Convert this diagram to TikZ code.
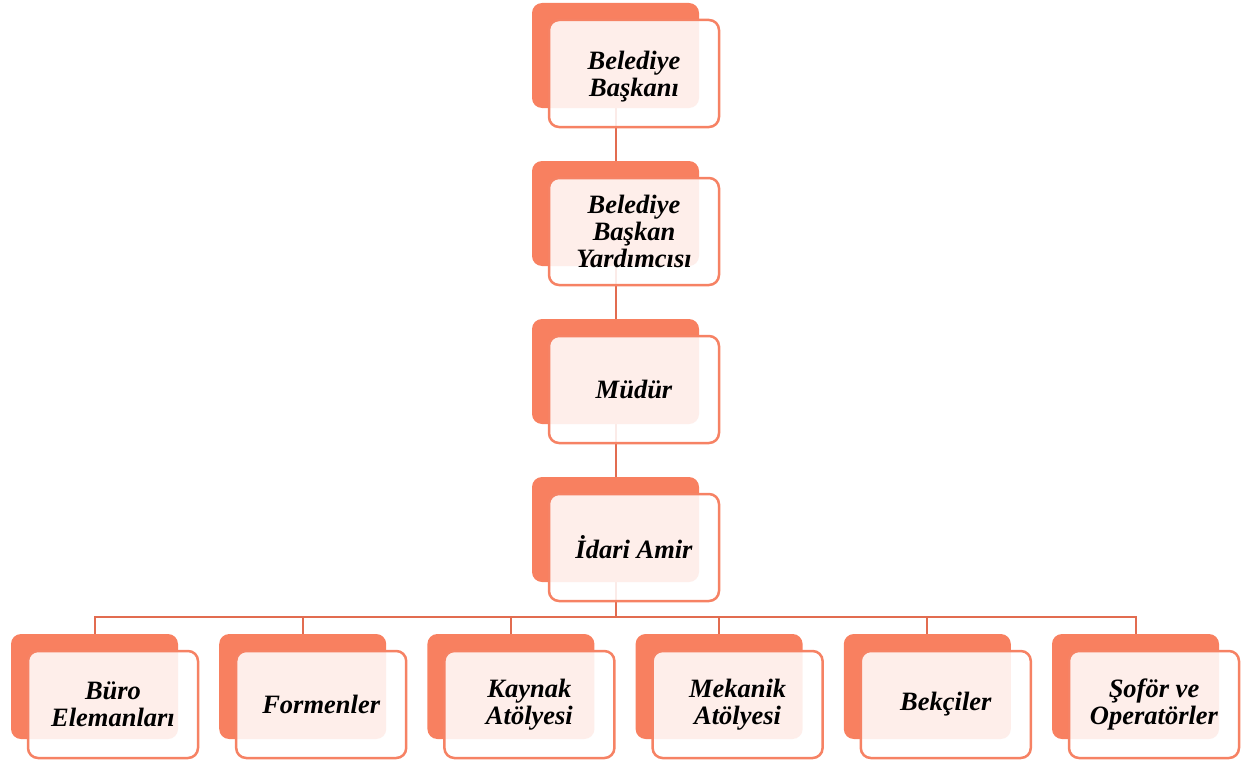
\documentclass[tikz,border=0pt]{standalone}
\usepackage{fontspec}
\setmainfont{Liberation Serif}
\usetikzlibrary{positioning,calc,backgrounds}
\definecolor{mercan}{RGB}{248, 128, 96}
\definecolor{cizgi}{RGB}{226, 108, 80}
\definecolor{kenar}{RGB}{246, 130, 100}
\tikzset{
    arka/.style={rectangle, rounded corners=10pt, fill=mercan, draw=none, minimum width=167, minimum height=105},
    on/.style={rectangle, rounded corners=10pt, draw=kenar, line width=2.5pt, fill=white, fill opacity=0.87, text opacity=1,
               minimum width=170, minimum height=107, align=center, inner sep=1pt,
               font=\fontsize{26.5}{27}\selectfont\bfseries\itshape},
    bag/.style={draw=cizgi, line width=2pt}
}

\begin{document}
\begin{tikzpicture}[x=1pt, y=-1pt]
    \useasboundingbox (0,0) rectangle (1241,760);
    \def\dx{18.5}
    \def\dy{18}

    % orta sutun
    \node[arka] (baskan-a) at (615.5, 55.5) {};
    \node[on, text depth=-1pt] (baskan) at (615.5+\dx, 55.5+\dy) {Belediye\\Başkanı};
    \foreach \ad/\y/\metin in {yardimci/213.5/{Belediye\\Başkan\\Yardımcısı}, mudur/371.5/{Müdür}, amir/529.5/{İdari Amir}}{
        \node[arka] (\ad-a) at (615.5, \y) {};
        \node[on] (\ad) at (615.5+\dx, \y+\dy) {\metin};
    }

    % alt sira
    \foreach \ad/\i/\metin in {buro/0/{Büro\\Elemanları}, formen/1/{Formenler}, kaynak/2/{Kaynak\\Atölyesi}, mekanik/3/{Mekanik\\Atölyesi}, bekci/4/{Bekçiler}, sofor/5/{Şoför ve\\Operatörler}}{
        \node[arka] (\ad-a) at (94.5+208.2*\i, 686.5) {};
        \node[on] (\ad) at (94.5+208.2*\i+\dx, 686.5+\dy) {\metin};
    }

    \begin{scope}[on background layer]
        \draw[bag] (baskan-a.south) -- (yardimci-a.north);
        \draw[bag] (yardimci-a.south) -- (mudur-a.north);
        \draw[bag] (mudur-a.south) -- (amir-a.north);
        \coordinate (bus) at (615.5, 617);
        \draw[bag] (amir-a.south) -- (bus);
        \foreach \ad in {buro, formen, kaynak, mekanik, bekci, sofor}{
            \draw[bag] (\ad-a.north) |- (bus);
        }
    \end{scope}
\end{tikzpicture}
\end{document}
